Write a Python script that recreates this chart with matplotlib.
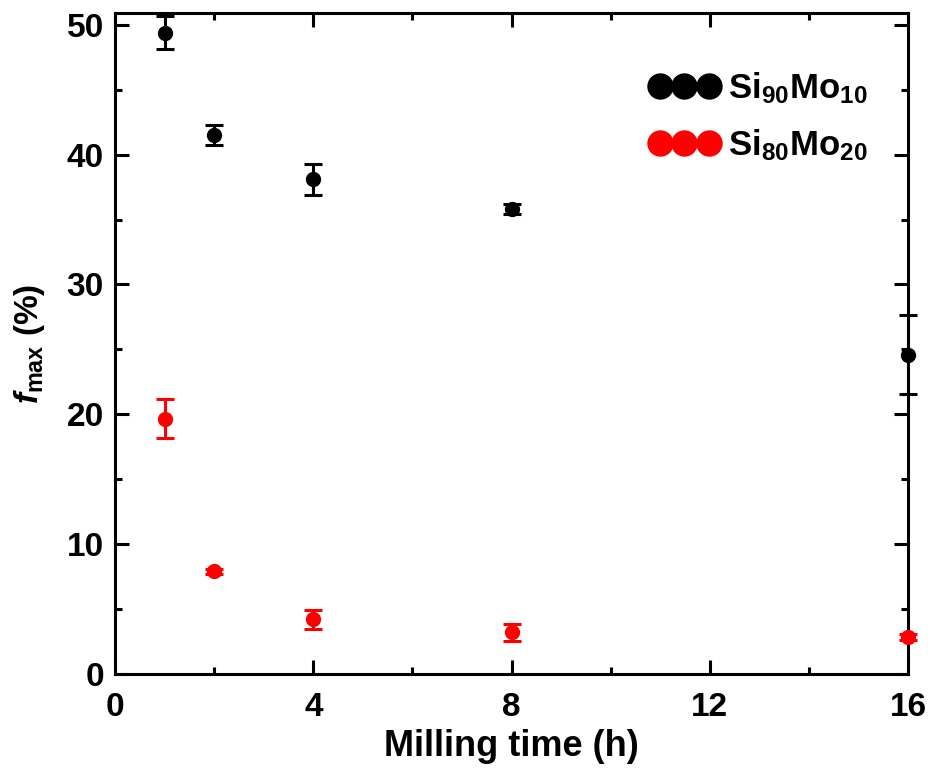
import numpy as np
import matplotlib
matplotlib.use('Agg')
import matplotlib.pyplot as plt
from matplotlib.lines import Line2D
from matplotlib.ticker import MultipleLocator

plt.rcParams['font.family'] = 'Liberation Sans'
plt.rcParams['font.weight'] = 'bold'
plt.rcParams['mathtext.fontset'] = 'custom'
plt.rcParams['mathtext.rm'] = 'Liberation Sans:bold'
plt.rcParams['mathtext.bf'] = 'Liberation Sans:bold'
plt.rcParams['mathtext.it'] = 'Liberation Sans:bold:italic'

# milling time (h)
time = [1, 2, 4, 8, 16]

# Si90Mo10
f_mo10 = [49.4, 41.5, 38.1, 35.8, 24.6]
err_mo10 = [1.3, 0.75, 1.2, 0.4, 3.05]

# Si80Mo20
f_mo20 = [19.65, 7.9, 4.2, 3.2, 2.85]
err_mo20 = [1.5, 0.2, 0.75, 0.65, 0.2]

labels = [r'Si$_{90}$Mo$_{10}$', r'Si$_{80}$Mo$_{20}$']

fig = plt.figure(figsize=(9.31, 7.72), dpi=100)
ax = fig.add_axes([0.1235, 0.127, 0.852, 0.856])

for y, e, c in [(f_mo10, err_mo10, 'black'), (f_mo20, err_mo20, 'red')]:
    eb = ax.errorbar(time, y, yerr=e, fmt='o', color=c, ms=10,
                     elinewidth=2.2, capsize=6.8, capthick=2.2, zorder=3)
    for art in eb.get_children():
        art.set_clip_on(False)

ax.set_xlim(0, 16)
ax.set_ylim(0, 50.9)
ax.xaxis.set_major_locator(MultipleLocator(4))
ax.xaxis.set_minor_locator(MultipleLocator(2))
ax.yaxis.set_major_locator(MultipleLocator(10))
ax.yaxis.set_minor_locator(MultipleLocator(5))
ax.tick_params(which='both', direction='in', top=True, right=True,
               width=2.2, labelsize=24)
ax.tick_params(axis='x', pad=13)
ax.tick_params(axis='y', pad=8)
ax.tick_params(which='major', length=10)
ax.tick_params(which='minor', length=5)
for s in ax.spines.values():
    s.set_linewidth(2.2)

ax.set_xlabel('Milling time (h)', fontsize=26, fontweight='bold', labelpad=4)
ax.set_ylabel(r'$f_{\mathrm{max}}$ (%)', fontsize=24, fontweight='bold', labelpad=14)

handles = [Line2D([], [], ls='none', marker='o', color='black', ms=18),
           Line2D([], [], ls='none', marker='o', color='red', ms=18)]
ax.legend(handles, labels, numpoints=3, frameon=False, loc='upper right',
          fontsize=25, handlelength=2.0, handletextpad=0.25, labelspacing=0.6,
          borderaxespad=0.2, bbox_to_anchor=(0.975, 0.945))

fig.savefig('out.png', dpi=100)
